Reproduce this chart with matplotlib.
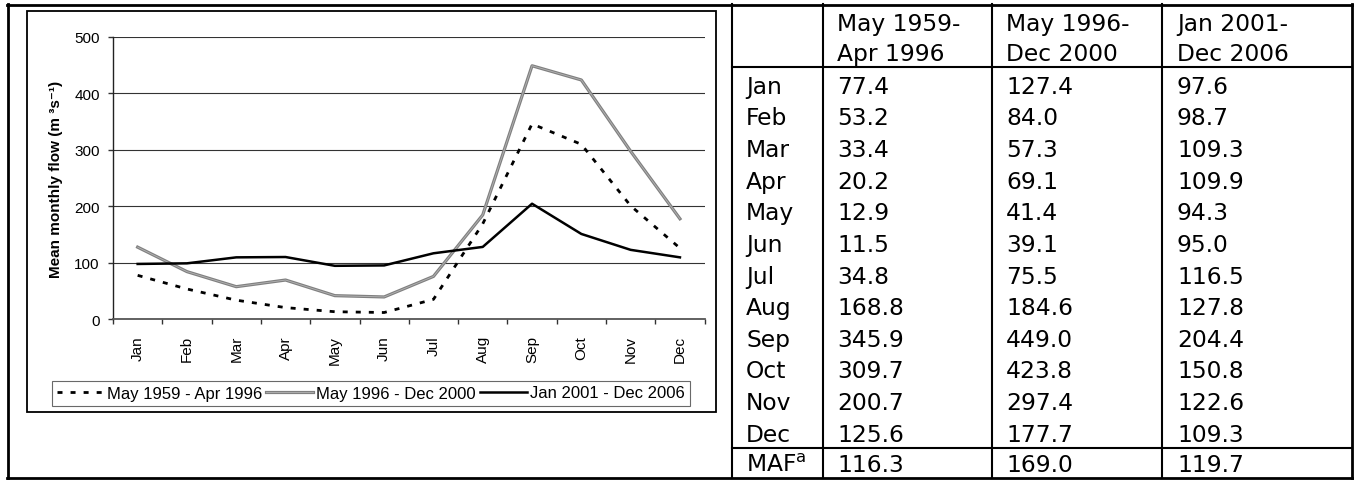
import matplotlib
matplotlib.use("Agg")
import matplotlib.pyplot as plt
import numpy as np
from matplotlib.lines import Line2D
from matplotlib.patches import Rectangle
from matplotlib.legend_handler import HandlerTuple

plt.rcParams['font.family'] = ['Liberation Sans', 'DejaVu Sans']

months = ['Jan', 'Feb', 'Mar', 'Apr', 'May', 'Jun',
          'Jul', 'Aug', 'Sep', 'Oct', 'Nov', 'Dec']
flow_1959_1996 = [77.4, 53.2, 33.4, 20.2, 12.9, 11.5, 34.8, 168.8, 345.9, 309.7, 200.7, 125.6]
flow_1996_2000 = [127.4, 84.0, 57.3, 69.1, 41.4, 39.1, 75.5, 184.6, 449.0, 423.8, 297.4, 177.7]
flow_2001_2006 = [97.6, 98.7, 109.3, 109.9, 94.3, 95.0, 116.5, 127.8, 204.4, 150.8, 122.6, 109.3]
maf = [116.3, 169.0, 119.7]
period_labels = ['May 1959 - Apr 1996', 'May 1996 - Dec 2000', 'Jan 2001 - Dec 2006']
header_lines = [['May 1959-', 'Apr 1996'],
                ['May 1996-', 'Dec 2000'],
                ['Jan 2001-', 'Dec 2006']]
y_ticks = [0, 100, 200, 300, 400, 500]

W, H = 1354, 481

def fx(x):
    return x / W

def fy(y):
    return 1 - y / H

fig = plt.figure(figsize=(W / 100, H / 100), dpi=100)

# chart area (pixel positions)
ax = fig.add_axes([fx(113), fy(320), (704.6 - 113) / W, (320 - 38) / H])
x = np.arange(12) + 0.5

h1, = ax.plot(x, flow_1959_1996, color='black', lw=2.0, dashes=(1.8, 2.9), zorder=3)
h2a, = ax.plot(x, flow_1996_2000, color='#808080', lw=2.3, zorder=4)
h2b, = ax.plot(x, flow_1996_2000, color='#b4b4b4', lw=0.6, zorder=4)
h3, = ax.plot(x, flow_2001_2006, color='black', lw=1.8, zorder=5)

ax.set_xlim(0, 12)
ax.set_ylim(0, 500)
ax.set_yticks(y_ticks)
ax.set_xticks(range(13))
ax.set_xticklabels([])
ax.set_xticks(x, minor=True)
ax.set_xticklabels(months, minor=True, rotation=90, fontsize=11)
ax.tick_params(axis='x', which='major', direction='out', length=3.6, width=1, color='#333')
ax.tick_params(axis='x', which='minor', length=0, pad=11.5)
ax.tick_params(axis='y', direction='out', length=3.6, width=1, color='#333', pad=6, labelsize=11)
ax.yaxis.grid(True, color='#333', lw=0.8)
ax.set_axisbelow(True)
for s in ['top', 'right']:
    ax.spines[s].set_visible(False)
ax.spines['left'].set_color('#222')
ax.spines['left'].set_linewidth(1.0)
ax.spines['bottom'].set_color('#555')
ax.spines['bottom'].set_linewidth(1.3)

fig.text(fx(56), fy(179), 'Mean monthly flow (m ³s⁻¹)', rotation=90,
         ha='center', va='center', fontsize=11, fontweight='bold')

# gray series is two stacked lines, so overlay them in one legend handle
leg = ax.legend(handles=[h1, (h2a, h2b), h3], labels=period_labels, ncol=3,
                loc='center', bbox_to_anchor=(fx(371), fy(394)),
                bbox_transform=fig.transFigure, handlelength=2.8,
                handletextpad=0.2, columnspacing=0.25, borderpad=0.3,
                fontsize=12, frameon=True, fancybox=False, edgecolor='#444',
                handler_map={tuple: HandlerTuple(ndivide=1)})
leg.get_frame().set_linewidth(0.8)

# chart box and outer frame
fig.add_artist(Rectangle((fx(27), fy(413)), (716 - 27) / W, (413 - 12) / H,
                         fill=False, ec='black', lw=1.3, transform=fig.transFigure))

def hline(y, x0, x1, lw=1.5):
    fig.add_artist(Line2D([fx(x0), fx(x1)], [fy(y), fy(y)], color='black',
                          lw=lw, transform=fig.transFigure))

def vline(xp, y0, y1, lw=1.5):
    fig.add_artist(Line2D([fx(xp), fx(xp)], [fy(y0), fy(y1)], color='black',
                          lw=lw, transform=fig.transFigure))

hline(5.5, 7, 1352, lw=2)
hline(479, 7, 1352, lw=2)
vline(7.5, 5, 479, lw=2)
vline(1352, 5, 479, lw=2)
for xp in [732, 823, 992, 1162]:
    vline(xp, 5, 479)
hline(68, 732, 1352)
hline(449, 732, 1352)

# table text
tfont = dict(family='DejaVu Sans', fontsize=16.8, va='baseline', ha='left')
cap = 8.4
col_x = [837, 1006, 1177]
for j, lines in enumerate(header_lines):
    fig.text(fx(col_x[j]), fy(23 + cap), lines[0], **tfont)
    fig.text(fx(col_x[j]), fy(52.5 + cap), lines[1], **tfont)

series = [flow_1959_1996, flow_1996_2000, flow_2001_2006]
for i, m in enumerate(months):
    yc = 85.3 + i * 31.64
    fig.text(fx(746), fy(yc + cap), m, **tfont)
    for j in range(3):
        fig.text(fx(col_x[j]), fy(yc + cap), '%.1f' % series[j][i], **tfont)

fig.text(fx(746), fy(464 + cap), r'MAF$^{\mathrm{a}}$', **tfont)
for j in range(3):
    fig.text(fx(col_x[j]), fy(464 + cap), '%.1f' % maf[j], **tfont)

fig.savefig('out.png', dpi=100)
